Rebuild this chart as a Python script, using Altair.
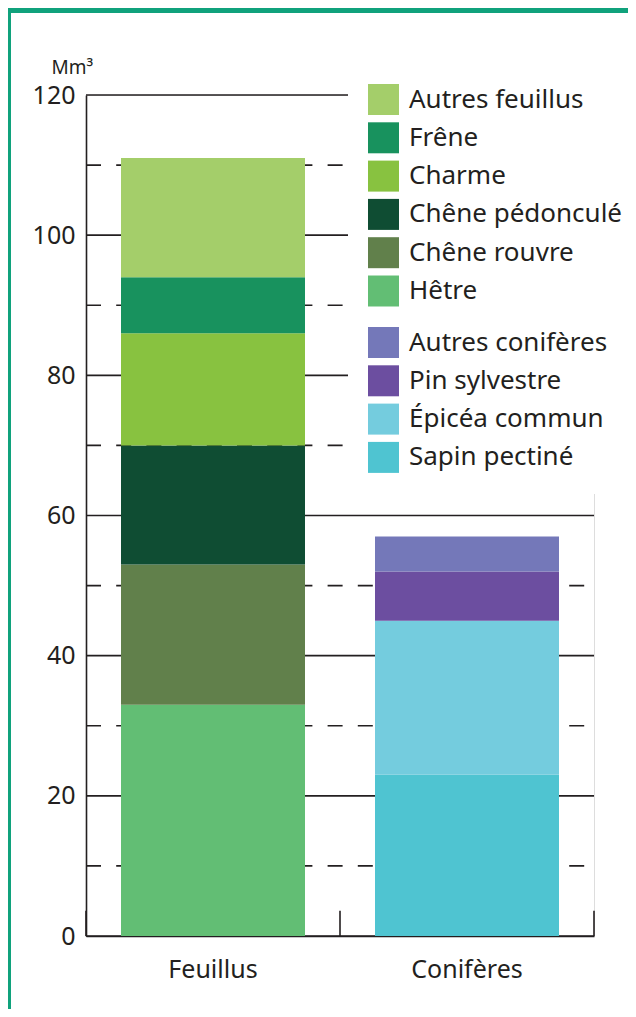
import altair as alt
import pandas as pd

# ---- data ----
groups = ["Feuillus", "Conifères"]

feuillus_species = ["Hêtre", "Chêne rouvre", "Chêne pédonculé", "Charme", "Frêne", "Autres feuillus"]
feuillus_values = [33, 20, 17, 16, 8, 17]
feuillus_colors = ["#62BE74", "#61804B", "#0F4D33", "#88C240", "#18925E", "#A4CE6A"]

conif_species = ["Sapin pectiné", "Épicéa commun", "Pin sylvestre", "Autres conifères"]
conif_values = [23, 22, 7, 5]
conif_colors = ["#4FC4D1", "#74CCDE", "#6C4EA0", "#7478B9"]

major_ticks = [0, 20, 40, 60, 80, 100, 120]
minor_ticks = [10, 30, 50, 70, 90, 110]

unit = "Mm³"

# ---- tables ----
df_f = pd.DataFrame({"group": "Feuillus", "species": feuillus_species,
                     "value": feuillus_values, "rank": list(range(len(feuillus_species)))})
df_c = pd.DataFrame({"group": "Conifères", "species": conif_species,
                     "value": conif_values, "rank": list(range(len(conif_species)))})
df_major = pd.DataFrame({"v": major_ticks})
df_minor = pd.DataFrame({"v": minor_ticks})
df_groups = pd.DataFrame({"group": groups})
df_last = pd.DataFrame({"group": groups[-1:]})
df_one = pd.DataFrame({"k": [0]})

INK = "#231F20"
GREEN = "#10A27C"
FONT = "Noto Sans"

x_scale = alt.Scale(domain=groups, paddingInner=0, paddingOuter=0)
y_scale = alt.Scale(domain=[0, 120], nice=False, zero=True)

x_axis = alt.Axis(domain=True, ticks=False, grid=False, labelAngle=0,
                  labelFontSize=25, labelPadding=21, labelColor=INK,
                  domainColor=INK, domainWidth=1.6, labelFont=FONT)
y_axis = alt.Axis(values=major_ticks, domain=True, ticks=False, grid=False,
                  labelFontSize=25, labelPadding=11, labelColor=INK, labelFont=FONT,
                  domainColor=INK, domainWidth=1.6,
                  titleAngle=0, titleX=-35, titleY=-22, titleAlign="left",
                  titleBaseline="alphabetic", titleFontSize=19, titleFontWeight="normal",
                  titleColor=INK, titleFont=FONT)

X = alt.X("group:N", scale=x_scale, axis=x_axis, title=None)

legend_common = dict(title=None, orient="none", symbolType="square", symbolSize=961,
                     symbolStrokeWidth=0, symbolOpacity=1, labelFontSize=26,
                     labelColor=INK, labelFont=FONT, labelLimit=400, labelOffset=10,
                     rowPadding=7.3, padding=20, fillColor="white", strokeColor="white")

grid_major = alt.Chart(df_major).mark_rule(color=INK, strokeWidth=1.6).encode(
    y=alt.Y("v:Q", scale=y_scale, axis=y_axis, title=unit),
    x=alt.value(0), x2=alt.value("width"))

grid_minor = alt.Chart(df_minor).mark_rule(color=INK, strokeWidth=1.6, strokeDash=[15, 15.2]).encode(
    y=alt.Y("v:Q", scale=y_scale, axis=y_axis, title=unit),
    x=alt.value(0), x2=alt.value("width"))

bars_f = alt.Chart(df_f).mark_bar(size=184).encode(
    x=X,
    y=alt.Y("value:Q", stack="zero", scale=y_scale, axis=y_axis, title=unit),
    color=alt.Color("species:N",
                    scale=alt.Scale(domain=feuillus_species[::-1], range=feuillus_colors[::-1]),
                    legend=alt.Legend(legendX=262, legendY=-31, **legend_common)),
    order=alt.Order("rank:Q", sort="ascending"))

bars_c = alt.Chart(df_c).mark_bar(size=184).encode(
    x=X,
    y=alt.Y("value:Q", stack="zero", scale=y_scale, axis=y_axis, title=unit),
    color=alt.Color("species:N",
                    scale=alt.Scale(domain=conif_species[::-1], range=conif_colors[::-1]),
                    legend=alt.Legend(legendX=262, legendY=212, **legend_common)),
    order=alt.Order("rank:Q", sort="ascending"))

sep_ticks = alt.Chart(df_groups).mark_rule(color=INK, strokeWidth=1.6).encode(
    x=alt.X("group:N", scale=x_scale, axis=x_axis, title=None, bandPosition=0),
    y=alt.datum(0), y2=alt.datum(3.6))

end_tick = alt.Chart(df_last).mark_rule(color=INK, strokeWidth=1.6).encode(
    x=alt.X("group:N", scale=x_scale, axis=x_axis, title=None, bandPosition=1),
    y=alt.datum(0), y2=alt.datum(3.6))

header = alt.Chart(df_one).mark_rect(color=GREEN).encode(
    x=alt.value(-78), x2=alt.value(542), y=alt.value(-87), y2=alt.value(-82))
border = alt.Chart(df_one).mark_rect(color=GREEN).encode(
    x=alt.value(-78), x2=alt.value(-75), y=alt.value(-82), y2=alt.value(914))

chart = alt.layer(
    grid_major, grid_minor, bars_f, bars_c, sep_ticks, end_tick, header, border
).resolve_scale(color="independent").properties(
    width=508, height=841,
    padding={"left": 78, "top": 87, "right": 34, "bottom": 73},
    autosize=alt.AutoSizeParams(type="none"),
    background="white",
).configure_view(stroke=None).configure(font=FONT)

chart.save("out.html", embed_options={"renderer": "svg", "actions": False})
